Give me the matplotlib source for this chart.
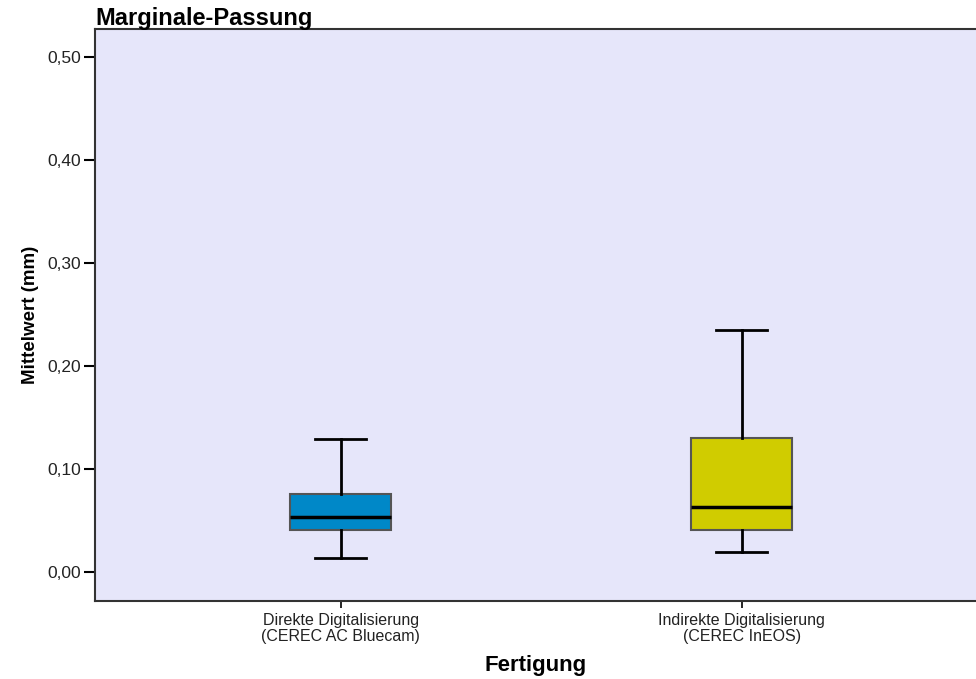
import matplotlib.pyplot as plt
from matplotlib.ticker import FuncFormatter

plt.rcParams["font.family"] = ["Liberation Sans", "DejaVu Sans"]

# Box summary per group (mm)
groups = ["Direkte Digitalisierung\n(CEREC AC Bluecam)",
          "Indirekte Digitalisierung\n(CEREC InEOS)"]
whislo = [0.0136, 0.0194]
q1 = [0.0408, 0.0410]
med = [0.0534, 0.0630]
q3 = [0.0757, 0.1300]
whishi = [0.1290, 0.2350]
colors = ["#0088C8", "#D0CC00"]

stats = []
for i in range(len(groups)):
    stats.append({"whislo": whislo[i], "q1": q1[i], "med": med[i],
                  "q3": q3[i], "whishi": whishi[i], "fliers": []})

fig = plt.figure(figsize=(9.76, 6.79), dpi=100)
ax = fig.add_axes([95 / 976, 78 / 679, 881 / 976, 572 / 679])
ax.set_facecolor("#E6E6FA")

bp = ax.bxp(stats, positions=[1, 2], widths=0.252, patch_artist=True,
            showfliers=False,
            boxprops=dict(edgecolor="#555555", linewidth=1.5),
            medianprops=dict(color="black", linewidth=2.5),
            whiskerprops=dict(color="black", linewidth=2),
            capprops=dict(color="black", linewidth=2),
            capwidths=0.127)
for patch, c in zip(bp["boxes"], colors):
    patch.set_facecolor(c)

ax.set_xlim(0.387, 2.584)
ax.set_ylim(-0.028, 0.527)
ax.set_yticks([0.0, 0.1, 0.2, 0.3, 0.4, 0.5])
ax.yaxis.set_major_formatter(FuncFormatter(lambda v, p: f"{v:.2f}".replace(".", ",")))
ax.set_xticks([1, 2])
ax.set_xticklabels(groups, fontsize=11.5, linespacing=1.0)
ax.tick_params(axis="y", direction="out", length=8, width=1.5, labelsize=12.5,
               pad=2, labelcolor="#222222")
ax.tick_params(axis="x", direction="out", length=5, width=1.2, pad=4,
               labelcolor="#222222")

for s in ["left", "bottom", "top"]:
    ax.spines[s].set_linewidth(1.5)
    ax.spines[s].set_color("#333333")
ax.spines["right"].set_visible(False)

ax.set_ylabel("Mittelwert (mm)", fontsize=13.5, fontweight="bold", labelpad=6)
ax.set_xlabel("Fertigung", fontsize=16, fontweight="bold", labelpad=8)
fig.text(95 / 976, 1 - 18 / 679, "Marginale-Passung", fontsize=17,
         fontweight="bold", ha="left", va="center")

fig.savefig("out.png", dpi=100)
